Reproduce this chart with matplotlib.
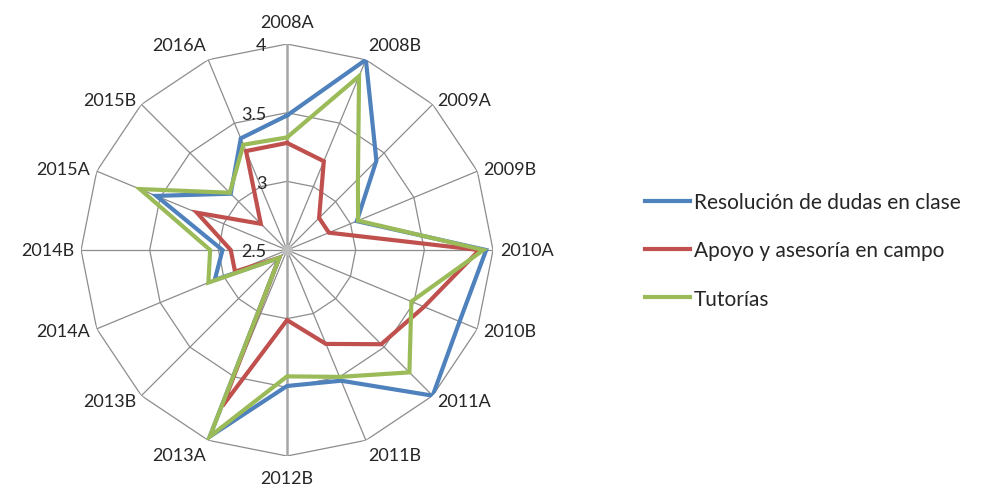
import numpy as np
import matplotlib.pyplot as plt
from matplotlib.lines import Line2D

# === Datos ===
periodos = ["2008A", "2008B", "2009A", "2009B", "2010A", "2010B", "2011A", "2011B",
            "2012B", "2013A", "2013B", "2014A", "2014B", "2015A", "2015B", "2016A"]

resolucion = [3.48, 4.00, 3.42, 3.05, 3.95, 3.86, 4.00, 3.53,
              3.49, 3.97, 2.58, 3.07, 2.97, 3.53, 3.08, 3.38]
apoyo = [3.28, 3.20, 2.83, 2.83, 3.90, 3.58, 3.47, 3.24,
         3.01, 3.73, 2.58, 2.91, 2.91, 3.21, 2.77, 3.28]
tutorias = [3.32, 3.87, 3.23, 3.06, 3.93, 3.48, 3.76, 3.50,
            3.42, 3.97, 2.58, 3.12, 3.06, 3.66, 3.09, 3.33]

niveles = [2.5, 3, 3.5, 4]
etiquetas_niveles = ["2.5", "3", "3.5", "4"]

series = [
    ("Resolución de dudas en clase", resolucion, "#4F81BD"),
    ("Apoyo y asesoría en campo", apoyo, "#C0504D"),
    ("Tutorías", tutorias, "#9BBB59"),
]

plt.rcParams['font.family'] = ['Lato', 'DejaVu Sans']

n = len(periodos)
angulos = np.arange(n) * 2 * np.pi / n
ang_cerr = np.append(angulos, angulos[0])

fig = plt.figure(figsize=(9.81, 4.89), dpi=100)
ax = fig.add_axes([0.0826, 0.0654, 0.42, 0.8425], projection='polar')
ax.set_theta_zero_location('N')
ax.set_theta_direction(-1)
ax.set_rlim(niveles[0], niveles[-1])
ax.grid(False)
ax.spines['polar'].set_visible(False)
ax.set_xticks([])
ax.set_yticks([])
ax.patch.set_alpha(0)

# Rejilla poligonal
for nv in niveles[1:]:
    ax.plot(ang_cerr, [nv] * (n + 1), color='#8c8c8c', lw=0.9, zorder=1)
for i, a in enumerate(angulos):
    if i in (0, n // 2):
        ax.plot([a, a], [niveles[0], niveles[-1]], color='#a6a6a6', lw=1.8, zorder=1)
    else:
        ax.plot([a, a], [niveles[0], niveles[-1]], color='#8c8c8c', lw=0.9, zorder=1)
ax.plot([0], [niveles[0]], 'o', ms=7, color='#bdbdbd', zorder=2, clip_on=False)

# Series
for nombre, valores, color in series:
    v = list(valores) + [valores[0]]
    ax.plot(ang_cerr, v, color=color, lw=3, solid_joinstyle='miter', zorder=3)

# Etiquetas de categoría
for a, lab in zip(angulos, periodos):
    s, c = np.sin(a), np.cos(a)
    ha = 'left' if s > 0.2 else ('right' if s < -0.2 else 'center')
    va = 'bottom' if c > 0.9 else ('top' if c < -0.9 else 'center')
    r = 4.1 if abs(c) > 0.99 else 4.05
    ax.text(a, r, lab, ha=ha, va=va, fontsize=13, color='#262626')

# Etiquetas del eje de valores
for nv, lab in zip(niveles, etiquetas_niveles):
    ax.annotate(lab, xy=(0, nv), xytext=(-15, -1), textcoords='offset points',
                ha='right', va='center', fontsize=13, color='#262626', zorder=4)

# Leyenda
handles = [Line2D([0], [0], color=col, lw=3) for _, _, col in series]
fig.legend(handles, [s[0] for s in series], loc='upper left',
           bbox_to_anchor=(0.638, 0.643), frameon=False, fontsize=15,
           handlelength=2.2, handletextpad=0.15, labelspacing=1.35,
           labelcolor='#262626')

fig.savefig("out.png", dpi=100)
